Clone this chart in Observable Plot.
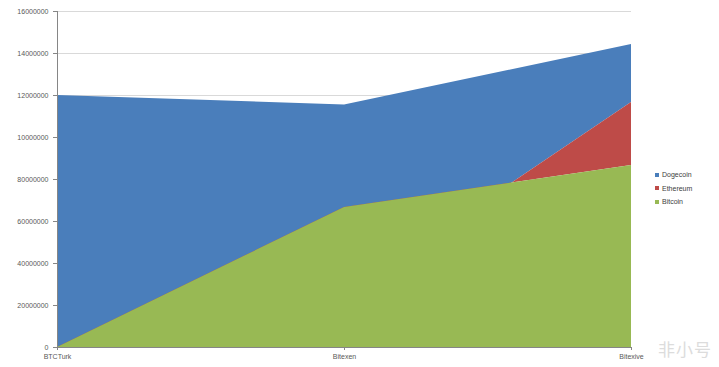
<!DOCTYPE html>
<html>
<head>
<meta charset="utf-8">
<script src="https://cdn.jsdelivr.net/npm/d3@7"></script>
<script src="https://cdn.jsdelivr.net/npm/@observablehq/plot@0.6"></script>
<style>
  html, body { margin: 0; padding: 0; background: #fff; }
  #wrap { position: relative; width: 719px; height: 367px; overflow: hidden; font-family: "Liberation Sans", Arial, sans-serif; }
  .legend { position: absolute; left: 655px; top: 168px; font-size: 7px; color: #404040; line-height: 13.5px; }
  .legend div { display: flex; align-items: center; }
  .legend span.sw { display: inline-block; width: 4px; height: 4px; margin-right: 3px; }
  .wm { position: absolute; left: 658px; top: 336px; font-family: "Noto Sans CJK SC", sans-serif; font-size: 17px; color: #dcdcdc; letter-spacing: 1px; }
</style>
</head>
<body>
<div id="wrap"></div>
<script>
const exchanges = ["BTCTurk", "Bitexen", "Bitexive"];
const seriesNames = ["Dogecoin", "Ethereum", "Bitcoin"];
const bitcoin  = [0, 66700000, 86700000];
const ethereum = [0, -42300000, 30000000];
const dogecoin = [120000000, 91100000, 27600000];
const yTicks = [0, 20000000, 40000000, 60000000, 80000000, 100000000, 120000000, 140000000, 160000000];
const yTickLabels = ["0", "20000000", "40000000", "60000000", "80000000", "10000000", "12000000", "14000000", "16000000"];
const colors = {Dogecoin: "#4A7EBB", Ethereum: "#BE4B48", Bitcoin: "#98B954"};

const rows = exchanges.map((ex, i) => {
  const b = bitcoin[i], e = ethereum[i], d = dogecoin[i];
  return {ex, b0: 0, b1: b, e0: b, e1: b + e, d0: b + e, d1: b + e + d};
});

const chart = Plot.plot({
  width: 719,
  height: 367,
  marginLeft: 57,
  marginRight: 88,
  marginTop: 11,
  marginBottom: 20,
  style: {fontFamily: "Liberation Sans, Arial, sans-serif", fontSize: "7px", color: "#595959", background: "#fff"},
  x: {type: "point", domain: exchanges, padding: 0, label: null},
  y: {domain: [0, 160000000], label: null},
  marks: [
    Plot.ruleY(yTicks.slice(1), {stroke: "#d9d9d9", strokeWidth: 1}),
    Plot.areaY(rows, {x: "ex", y1: "d0", y2: "d1", fill: colors.Dogecoin}),
    Plot.areaY(rows, {x: "ex", y1: "e0", y2: "e1", fill: colors.Ethereum}),
    Plot.areaY(rows, {x: "ex", y1: "b0", y2: "b1", fill: colors.Bitcoin}),
    Plot.axisY({ticks: yTicks, tickFormat: (d, i) => yTickLabels[yTicks.indexOf(d)], tickSize: 4, tickPadding: 5, stroke: "#868686", fill: "#595959", fontSize: 7}),
    Plot.axisX({tickSize: 3, tickPadding: 4, stroke: "#868686", fill: "#595959", fontSize: 7}),
    Plot.ruleX([exchanges[0]], {y1: 0, y2: 160000000, stroke: "#868686"}),
    Plot.ruleY([0], {stroke: "#868686"})
  ]
});

const wrap = document.getElementById("wrap");
wrap.appendChild(chart);

const legend = document.createElement("div");
legend.className = "legend";
seriesNames.forEach(n => {
  const row = document.createElement("div");
  const sw = document.createElement("span");
  sw.className = "sw";
  sw.style.background = colors[n];
  row.appendChild(sw);
  row.appendChild(document.createTextNode(n));
  legend.appendChild(row);
});
wrap.appendChild(legend);

const wm = document.createElement("div");
wm.className = "wm";
wm.textContent = "非小号";
wrap.appendChild(wm);
</script>
</body>
</html>
